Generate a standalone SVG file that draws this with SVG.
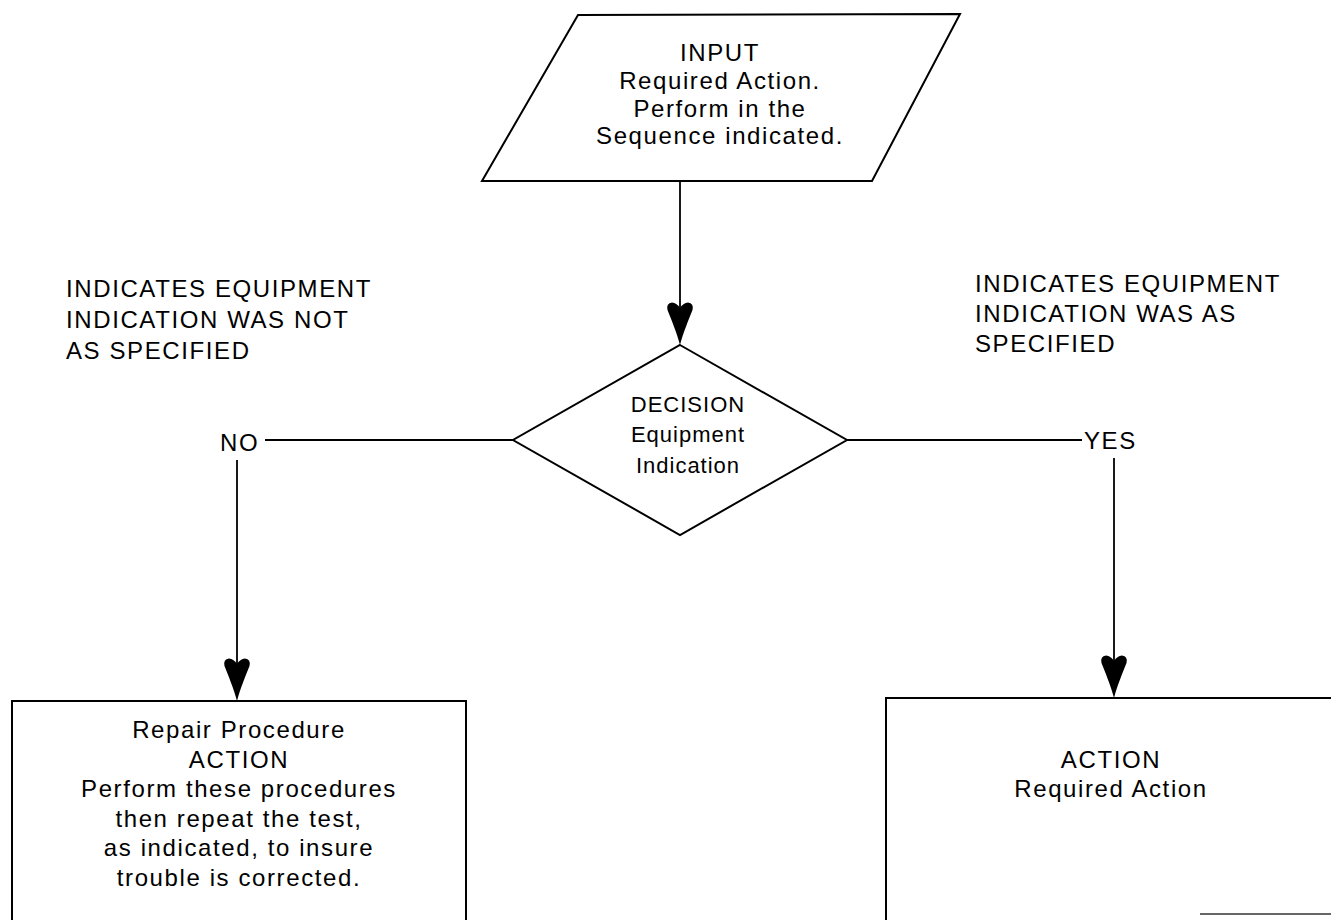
<svg xmlns="http://www.w3.org/2000/svg" xmlns:xlink="http://www.w3.org/1999/xlink" width="1331" height="920" viewBox="0 0 1331 920">
  <style>
    .shape { fill: #ffffff; stroke: #000000; stroke-width: 2; }
    .wire { fill: none; stroke: #000000; stroke-width: 1.8; }
    .txt { font-family: "Liberation Sans", Arial, sans-serif; font-size: 24px; fill: #000000; letter-spacing: 1.6px; }
    .small { font-size: 22px; letter-spacing: 1px; }
    .mid { text-anchor: middle; }
  </style>
  <defs>
    <!-- notched arrowhead, tip at origin pointing down -->
    <path id="head" d="M0,0 C-3,-12 -9,-26 -12.5,-35 Q-14,-42 -8,-42.5 Q-3,-42 0,-37 Q3,-42 8,-42.5 Q14,-42 12.5,-35 C9,-26 3,-12 0,0 Z" fill="#000000"/>
  </defs>
  <rect width="1331" height="920" fill="#ffffff"/>

  <g id="connectors">
    <line class="wire" x1="680" y1="181" x2="680" y2="310"/>
    <use xlink:href="#head" x="680" y="345"/>
    <line class="wire" x1="265" y1="440" x2="513" y2="440"/>
    <line class="wire" x1="237" y1="460" x2="237" y2="665"/>
    <use xlink:href="#head" x="237" y="701"/>
    <line class="wire" x1="847" y1="440" x2="1082" y2="440"/>
    <line class="wire" x1="1114" y1="458" x2="1114" y2="662"/>
    <use xlink:href="#head" x="1114" y="698"/>
  </g>

  <g id="input">
    <polygon class="shape" points="578,15 960,14 872,181 482,181"/>
    <text class="txt mid" x="720" y="61">INPUT</text>
    <text class="txt mid" x="720" y="89">Required Action.</text>
    <text class="txt mid" x="720" y="117">Perform in the</text>
    <text class="txt mid" x="720" y="144">Sequence indicated.</text>
  </g>

  <g id="decision">
    <polygon class="shape" points="680,345 847,440 680,535 513,440"/>
    <text class="txt small mid" x="688" y="412">DECISION</text>
    <text class="txt small mid" x="688" y="442">Equipment</text>
    <text class="txt small mid" x="688" y="473">Indication</text>
  </g>

  <g id="label-no">
    <text class="txt" x="66" y="297">INDICATES EQUIPMENT</text>
    <text class="txt" x="66" y="328">INDICATION WAS NOT</text>
    <text class="txt" x="66" y="359">AS SPECIFIED</text>
    <text class="txt" x="220" y="451">NO</text>
  </g>

  <g id="label-yes">
    <text class="txt" x="975" y="292">INDICATES EQUIPMENT</text>
    <text class="txt" x="975" y="322">INDICATION WAS AS</text>
    <text class="txt" x="975" y="352">SPECIFIED</text>
    <text class="txt" x="1084" y="449">YES</text>
  </g>

  <g id="repair">
    <polyline class="shape" fill="none" points="12,925 12,701 466,701 466,925"/>
    <text class="txt mid" x="239" y="738">Repair Procedure</text>
    <text class="txt mid" x="239" y="768">ACTION</text>
    <text class="txt mid" x="239" y="797">Perform these procedures</text>
    <text class="txt mid" x="239" y="827">then repeat the test,</text>
    <text class="txt mid" x="239" y="856">as indicated, to insure</text>
    <text class="txt mid" x="239" y="886">trouble is corrected.</text>
  </g>

  <g id="action">
    <polyline class="shape" fill="none" points="886,925 886,698 1335,698"/>
    <line x1="1200" y1="914" x2="1331" y2="914" stroke="#333333" stroke-width="1.6"/>
    <text class="txt mid" x="1111" y="768">ACTION</text>
    <text class="txt mid" x="1111" y="797">Required Action</text>
  </g>
</svg>
